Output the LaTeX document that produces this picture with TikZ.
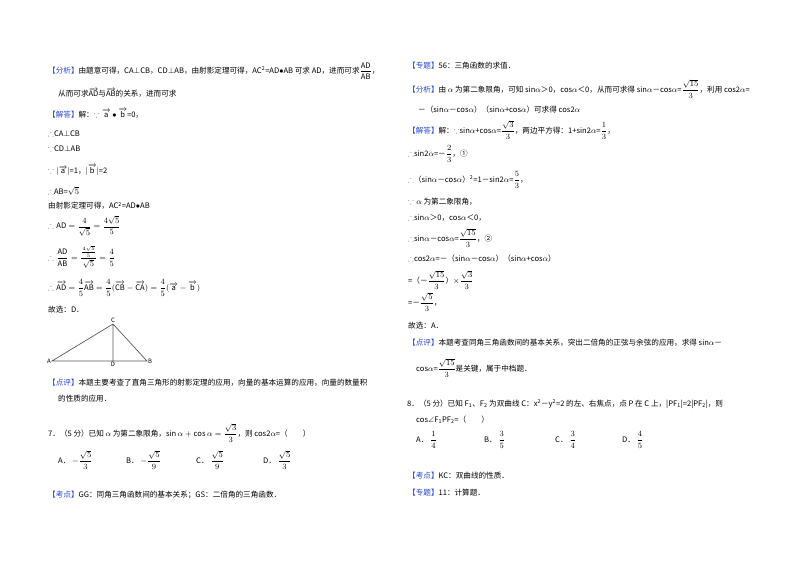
\documentclass[tikz,border=0pt]{standalone}
\usepackage{amsmath,amssymb}
\usepackage{fontspec}
\setmainfont{Noto Sans CJK SC}
\definecolor{lab}{RGB}{40,70,210}
\newcommand{\tg}[1]{\textcolor{lab}{【#1】}}
\newcommand{\va}{\overrightarrow{\mathrm a}}
\newcommand{\vb}{\overrightarrow{\mathrm b}}
\newcommand{\rr}[1]{\mathrm{#1}}
\begin{document}
\begin{tikzpicture}[x=1pt,y=-1pt,
  t/.style={anchor=west,inner sep=0pt,font=\fontsize{7.6}{8}\selectfont},
  pt/.style={inner sep=1pt,font=\fontsize{6}{7}\selectfont}]
\useasboundingbox[fill=white] (0,0) rectangle (800,565);
% left column
\node[t] (l1) at (48,71) {\tg{分析}由题意可得，CA$\perp$CB，CD$\perp$AB，由射影定理可得，AC\textsuperscript{2}=AD$\bullet$AB 可求 AD，进而可求$\dfrac{\rr{AD}}{\rr{AB}}$，};
\node[t] (l2) at (58,93) {从而可求$\overrightarrow{\rr{AD}}$与$\overrightarrow{\rr{AB}}$的关系，进而可求};
\node[t] (l3) at (48,113) {\tg{解答}解：$\because\va\bullet\vb$=0，};
\node[t] (l4) at (48,134) {$\therefore$CA$\perp$CB};
\node[t] (l5) at (48,149) {$\because$CD$\perp$AB};
\node[t] (l6) at (48,170) {$\because|\va|$=1，$|\vb|$=2};
\node[t] (l7) at (48,191) {$\therefore$AB=$\sqrt5$};
\node[t] (l8) at (48,206) {由射影定理可得，AC\textsuperscript{2}=AD$\bullet$AB};
\node[t] (l9) at (48,226) {$\therefore \rr{AD}=\dfrac{4}{\sqrt5}=\dfrac{4\sqrt5}{5}$};
\node[t] (l10) at (48,257) {$\therefore \dfrac{\rr{AD}}{\rr{AB}}=\dfrac{\frac{4\sqrt5}{5}}{\sqrt5}=\dfrac45$};
\node[t] (l11) at (48,288) {$\therefore \overrightarrow{\rr{AD}}=\dfrac45\overrightarrow{\rr{AB}}=\dfrac45(\overrightarrow{\rr{CB}}-\overrightarrow{\rr{CA}})=\dfrac45(\va-\vb)$};
\node[t] (l12) at (48,310) {故选：D．};
\coordinate (C) at (113,324);
\coordinate (A) at (52,361);
\coordinate (B) at (147,361);
\coordinate (D) at (113,361);
\draw[gray!70!black,line width=0.7pt] (A) -- (C) -- (B) -- cycle (C) -- (D);
\node[pt,above] (lc) at (C) {C};
\node[pt,left] (la) at (A) {A};
\node[pt,right] (lb) at (B) {B};
\node[pt,below] (ld) at (D) {D};
\node[t] (l13) at (48,383) {\tg{点评}本题主要考查了直角三角形的射影定理的应用，向量的基本运算的应用，向量的数量积};
\node[t] (l14) at (58,399) {的性质的应用．};
\node[t] (l15) at (48,433) {7．（5 分）已知 $\alpha$ 为第二象限角，$\sin\alpha+\cos\alpha=\dfrac{\sqrt3}{3}$，则 cos2$\alpha$=（\quad\quad）};
\node[t] (o1) at (58,460) {A．\ $-\dfrac{\sqrt5}{3}$};
\node[t] (o2) at (126,460) {B．\ $-\dfrac{\sqrt5}{9}$};
\node[t] (o3) at (196,460) {C．\ $\dfrac{\sqrt5}{9}$};
\node[t] (o4) at (263,460) {D．\ $\dfrac{\sqrt5}{3}$};
\node[t] (l16) at (48,495) {\tg{考点}GG：同角三角函数间的基本关系；GS：二倍角的三角函数．};
% right column
\node[t] (r1) at (408,66) {\tg{专题}56：三角函数的求值．};
\node[t] (r2) at (408,89) {\tg{分析}由 $\alpha$ 为第二象限角，可知 sin$\alpha$＞0，cos$\alpha$＜0，从而可求得 sin$\alpha$－cos$\alpha$=$\dfrac{\sqrt{15}}{3}$，利用 cos2$\alpha$=};
\node[t] (r3) at (418,110) {－（sin$\alpha$－cos$\alpha$）（sin$\alpha$+cos$\alpha$）可求得 cos2$\alpha$};
\node[t] (r4) at (408,130) {\tg{解答}解：$\because$sin$\alpha$+cos$\alpha$=$\dfrac{\sqrt3}{3}$，两边平方得：1+sin2$\alpha$=$\dfrac13$，};
\node[t] (r5) at (408,154) {$\therefore$sin2$\alpha$=－$\dfrac23$，①};
\node[t] (r6) at (408,180) {$\therefore$（sin$\alpha$－cos$\alpha$）\textsuperscript{2}=1－sin2$\alpha$=$\dfrac53$，};
\node[t] (r7) at (408,202) {$\because\alpha$ 为第二象限角，};
\node[t] (r8) at (408,218) {$\therefore$sin$\alpha$＞0，cos$\alpha$＜0，};
\node[t] (r9) at (408,238) {$\therefore$sin$\alpha$－cos$\alpha$=$\dfrac{\sqrt{15}}{3}$，②};
\node[t] (r10) at (408,259) {$\therefore$cos2$\alpha$=－（sin$\alpha$－cos$\alpha$）（sin$\alpha$+cos$\alpha$）};
\node[t] (r11) at (408,280) {=（－$\dfrac{\sqrt{15}}{3}$）$\times\dfrac{\sqrt3}{3}$};
\node[t] (r12) at (408,302) {=－$\dfrac{\sqrt5}{3}$，};
\node[t] (r13) at (408,326) {故选：A．};
\node[t] (r14) at (408,343) {\tg{点评}本题考查同角三角函数间的基本关系，突出二倍角的正弦与余弦的应用，求得 sin$\alpha$－};
\node[t] (r15) at (416,368) {cos$\alpha$=$\dfrac{\sqrt{15}}{3}$是关键，属于中档题．};
\node[t] (r16) at (407,404) {8．（5 分）已知 F\textsubscript{1}、F\textsubscript{2} 为双曲线 C：x\textsuperscript{2}－y\textsuperscript{2}=2 的左、右焦点，点 P 在 C 上，|PF\textsubscript{1}|=2|PF\textsubscript{2}|，则};
\node[t] (r17) at (416,420) {cos$\angle$F\textsubscript{1}PF\textsubscript{2}=（\quad\quad）};
\node[t] (p1) at (416,440) {A．\ $\dfrac14$};
\node[t] (p2) at (484,440) {B．\ $\dfrac35$};
\node[t] (p3) at (555,440) {C．\ $\dfrac34$};
\node[t] (p4) at (622,440) {D．\ $\dfrac45$};
\node[t] (r18) at (408,476) {\tg{考点}KC：双曲线的性质．};
\node[t] (r19) at (408,493) {\tg{专题}11：计算题．};
\end{tikzpicture}
\end{document}
